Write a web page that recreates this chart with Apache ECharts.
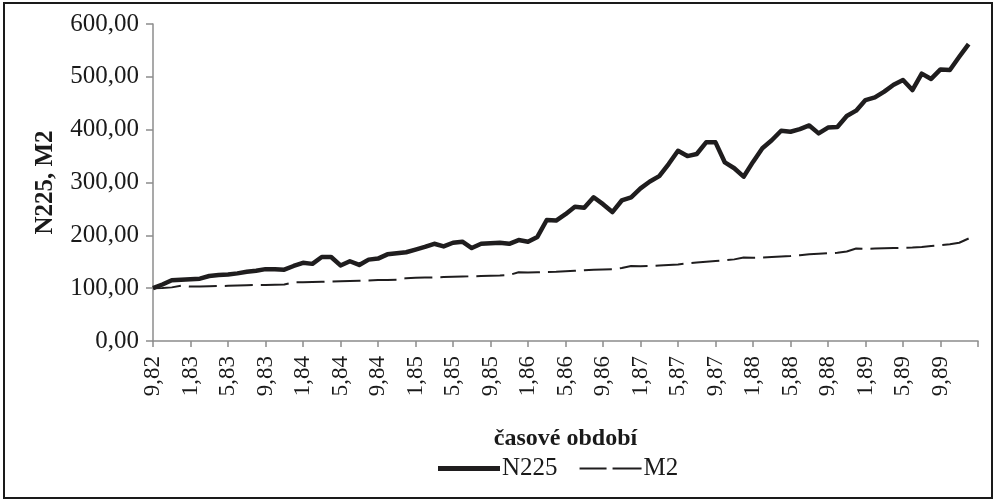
<!DOCTYPE html>
<html>
<head>
<meta charset="utf-8">
<script src="https://cdn.jsdelivr.net/npm/echarts@6/dist/echarts.min.js"></script>
<style>
html,body{margin:0;padding:0;background:#fff;}
#chart{width:995px;height:501px;}
</style>
</head>
<body>
<div id="chart"></div>
<script>
// Categories: month,year from 9/1982 to 1/1990 (last one is the axis end, no data)
const categories = [];
(function(){
  let m = 9, y = 82;
  for (let k = 0; k < 89; k++) {
    categories.push(m + ',' + y);
    m++; if (m > 12) { m = 1; y++; }
  }
})();

const seriesNames = ['N225', 'M2'];

const n225 = [
  100, 107, 115, 116, 117, 118, 123, 125, 126, 128, 131, 133,
  136, 136, 135, 142, 148, 146, 159, 159, 143, 151, 144, 154,
  156, 164, 166, 168, 173, 178, 184, 179, 186, 188, 176, 184,
  185, 186, 184, 191, 188, 197, 229, 228, 240, 254, 252, 272,
  259, 244, 266, 272, 289, 302, 312, 335, 360, 350, 354, 376,
  376, 338, 327, 311, 339, 365, 380, 398, 396, 401, 408, 393,
  404, 405, 426, 436, 456, 461, 472, 485, 494, 475, 506, 496,
  514, 513, 538, 562, null
];

const m2 = [
  100, 100.5, 101.5, 104.5, 103, 103, 103.5, 104, 104.5, 105, 105.5, 106,
  106, 106.5, 107, 111, 111, 111.5, 112, 112.5, 113, 113.5, 114, 114.5,
  115.5, 115.5, 116, 119, 119.5, 120, 120.5, 121, 121.5, 122, 122.5, 123,
  123.5, 124, 125, 130, 129.5, 130, 130.5, 131, 132, 133, 134, 135,
  135.5, 136, 138, 142, 141.5, 142, 143, 144, 145, 147, 148.5, 150,
  151.5, 153, 154.5, 158, 157.5, 158, 159, 160, 161, 162.5, 164, 165,
  166, 167, 169.5, 175, 174.5, 175, 175.5, 176, 176.5, 177, 178, 180,
  181.5, 183, 186, 194, null
];

const yMin = 0, yMax = 600, yStep = 100;
const labelEvery = 4;

const FONT = "'Liberation Serif','Times New Roman',serif";
const INK = '#1f1d1e';
const chart = echarts.init(document.getElementById('chart'), null, {renderer:'canvas'});
chart.setOption({
  backgroundColor: '#ffffff',
  animation: false,
  textStyle: { fontFamily: FONT, color: '#1a1a1a' },
  graphic: [{
    type: 'rect',
    shape: { x: 4, y: 3, width: 988, height: 495 },
    style: { fill: 'none', stroke: '#1a1a1a', lineWidth: 2 },
    silent: true
  }],
  grid: { left: 153, right: 17, top: 24, bottom: 160, containLabel: false },
  legend: {
    left: 433, top: 451,
    itemWidth: 62, itemHeight: 5, itemGap: 22,
    symbolKeepAspect: true,
    data: [
      { name: seriesNames[0], icon: 'path://M0,0H62V5H0Z', itemStyle: { color: INK } },
      { name: seriesNames[1], icon: 'path://M0,1.5H27V3.5H0Z M33,1.5H62V3.5H33Z M0,0H0.01V5H0Z', itemStyle: { color: INK } }
    ],
    textStyle: { fontFamily: FONT, fontSize: 25, color: '#1a1a1a', padding: [0,0,0,-3] }
  },
  xAxis: {
    type: 'category',
    data: categories,
    boundaryGap: false,
    name: 'časové období',
    nameLocation: 'middle',
    nameGap: 86,
    nameTextStyle: { fontFamily: FONT, fontSize: 24, fontWeight: 'bold', color: '#1a1a1a' },
    axisLine: { lineStyle: { color: '#8c8c8c', width: 1.5 } },
    axisTick: {
      show: true, length: 6,
      interval: function (i) { return i % labelEvery === 0; },
      lineStyle: { color: '#8c8c8c', width: 1.5 }
    },
    axisLabel: {
      rotate: 90, margin: 15,
      interval: function (i) { return i % labelEvery === 0 && i < categories.length - 1; },
      fontFamily: FONT, fontSize: 23, color: '#1a1a1a'
    },
    splitLine: { show: false }
  },
  yAxis: {
    type: 'value',
    min: yMin, max: yMax, interval: yStep,
    name: 'N225, M2',
    nameLocation: 'middle',
    nameGap: 95,
    nameRotate: 90,
    nameTextStyle: { fontFamily: FONT, fontSize: 25, fontWeight: 'bold', color: '#1a1a1a' },
    axisLine: { show: true, lineStyle: { color: '#8c8c8c', width: 1.5 } },
    axisTick: { show: true, length: 7, lineStyle: { color: '#8c8c8c', width: 1.5 } },
    axisLabel: {
      margin: 14, fontFamily: FONT, fontSize: 25, color: '#1a1a1a',
      formatter: function (v) { return v.toFixed(2).replace('.', ','); }
    },
    splitLine: { show: false }
  },
  series: [
    {
      name: 'N225', type: 'line', data: n225,
      showSymbol: false, symbol: 'none',
      lineStyle: { color: INK, width: 4.5, join: 'round' },
      itemStyle: { color: INK }
    },
    {
      name: 'M2', type: 'line', data: m2,
      showSymbol: false, symbol: 'none',
      lineStyle: { color: INK, width: 2, type: [28, 8] },
      itemStyle: { color: INK }
    }
  ]
});
</script>
</body>
</html>
